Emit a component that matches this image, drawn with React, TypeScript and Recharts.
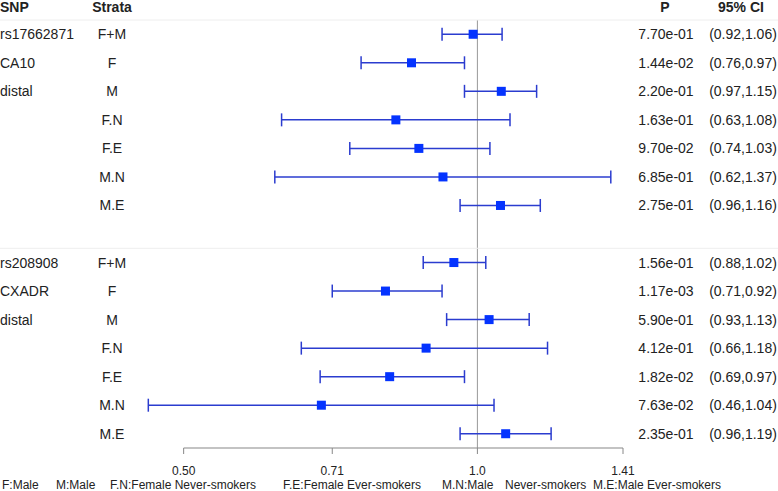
import React from "react";
import {
  ScatterChart,
  Scatter,
  XAxis,
  YAxis,
  ErrorBar,
  ReferenceLine,
} from "recharts";

const strata = ["F+M", "F", "M", "F.N", "F.E", "M.N", "M.E"];

// rs17662871 / CA10
const or1 = [0.99, 0.856, 1.058, 0.825, 0.871, 0.922, 1.056];
const lo1 = [0.92, 0.76, 0.97, 0.63, 0.74, 0.62, 0.96];
const hi1 = [1.06, 0.97, 1.15, 1.08, 1.03, 1.37, 1.16];
const p1 = ["7.70e-01", "1.44e-02", "2.20e-01", "1.63e-01", "9.70e-02", "6.85e-01", "2.75e-01"];

// rs208908 / CXADR
const or2 = [0.946, 0.805, 1.028, 0.886, 0.813, 0.692, 1.069];
const lo2 = [0.88, 0.71, 0.93, 0.66, 0.69, 0.46, 0.96];
const hi2 = [1.02, 0.92, 1.13, 1.18, 0.97, 1.04, 1.19];
const p2 = ["1.56e-01", "1.17e-03", "5.90e-01", "4.12e-01", "1.82e-02", "7.63e-02", "2.35e-01"];

const snp1 = ["rs17662871", "CA10", "distal"];
const snp2 = ["rs208908", "CXADR", "distal"];

const xTicks = [0.5, 0.71, 1.0, 1.41];
const xTickLabels = ["0.50", "0.71", "1.0", "1.41"];

const legendItems: [string, number][] = [
  ["F:Male", 2],
  ["M:Male", 56],
  ["F.N:Female Never-smokers", 110],
  ["F.E:Female Ever-smokers", 283],
  ["M.N:Male", 442],
  ["Never-smokers", 505],
  ["M.E:Male Ever-smokers", 593],
];

const FONT = '"Liberation Sans", Arial, sans-serif';
const TEXT = "#222";
const LINE_BLUE = "#2b3ccf";
const SQUARE_BLUE = "#0433ff";

const buildGroup = (start: number, snp: string[], or: number[], lo: number[], hi: number[], p: string[]) =>
  strata.map((s, i) => ({
    row: start + i,
    snp: snp[i] || "",
    strata: s,
    or: or[i],
    err: [or[i] - lo[i], hi[i] - or[i]],
    p: p[i],
    ci: `(${lo[i].toFixed(2)},${hi[i].toFixed(2)})`,
  }));

const data = [
  ...buildGroup(1, snp1, or1, lo1, hi1, p1),
  ...buildGroup(9, snp2, or2, lo2, hi2, p2),
];
const rowTicks = data.map((d) => d.row);

const RowTick = (props: any) => {
  const { y, payload } = props;
  const d = data.find((r) => r.row === payload.value);
  if (!d) return null;
  const startsGroup = d.row === 1 || d.row === 9;
  return (
    <g fontFamily={FONT} fontSize={14} fill={TEXT}>
      {startsGroup && (
        <line x1={0} x2={778} y1={y - 14.25} y2={y - 14.25} stroke="#eeeeee" strokeWidth={1} />
      )}
      <text x={0} y={y} dominantBaseline="central" textAnchor="start">{d.snp}</text>
      <text x={112} y={y} dominantBaseline="central" textAnchor="middle">{d.strata}</text>
      <text x={666} y={y} dominantBaseline="central" textAnchor="middle">{d.p}</text>
      <text x={743} y={y} dominantBaseline="central" textAnchor="middle">{d.ci}</text>
    </g>
  );
};

const Square = (props: any) => {
  const { cx, cy } = props;
  return <rect x={cx - 4.5} y={cy - 4.5} width={9} height={9} fill={SQUARE_BLUE} />;
};

export default function App() {
  return (
    <div style={{ position: "absolute", left: 0, top: 0, width: 778, height: 491, background: "#fff" }}>
      <ScatterChart width={778} height={491} margin={{ top: 20, right: 155, bottom: 13, left: 0 }}>
        <XAxis
          type="number"
          dataKey="or"
          scale="log"
          domain={[0.45, 1.41]}
          allowDataOverflow
          ticks={xTicks}
          interval={0}
          tickFormatter={(v: number) => xTickLabels[xTicks.indexOf(v)] ?? String(v)}
          axisLine={false}
          tickLine={{ stroke: "#888" }}
          tickSize={6}
          tickMargin={12}
          height={30}
          tick={{ fill: TEXT, fontSize: 12, fontFamily: FONT }}
        />
        <YAxis
          type="number"
          dataKey="row"
          domain={[0.5, 15.5]}
          allowDataOverflow
          reversed
          ticks={rowTicks}
          interval={0}
          width={139}
          axisLine={false}
          tickLine={false}
          tick={(p: any) => <RowTick {...p} />}
        />
        <ReferenceLine x={1} stroke="#999" strokeWidth={1} />
        <ReferenceLine
          segment={[{ x: 0.5, y: 15.5 }, { x: 1.41, y: 15.5 }]}
          stroke="#888"
          strokeWidth={1.2}
          ifOverflow="visible"
        />
        <Scatter data={data} shape={Square} isAnimationActive={false}>
          <ErrorBar dataKey="err" direction="x" width={6.5} stroke={LINE_BLUE} strokeWidth={1.5} />
        </Scatter>
      </ScatterChart>
      <svg
        width={778}
        height={491}
        style={{ position: "absolute", left: 0, top: 0, pointerEvents: "none" }}
        fontFamily={FONT}
      >
        <g fontWeight="bold" fontSize={14} fill={TEXT}>
          <text x={0} y={7} dominantBaseline="central">SNP</text>
          <text x={112} y={7} dominantBaseline="central" textAnchor="middle">Strata</text>
          <text x={665} y={7} dominantBaseline="central" textAnchor="middle">P</text>
          <text x={741} y={7} dominantBaseline="central" textAnchor="middle">95% CI</text>
        </g>
        <g fontSize={12} fill={TEXT}>
          {legendItems.map(([t, x]) => (
            <text key={t} x={x} y={485} dominantBaseline="central">{t}</text>
          ))}
        </g>
      </svg>
    </div>
  );
}
